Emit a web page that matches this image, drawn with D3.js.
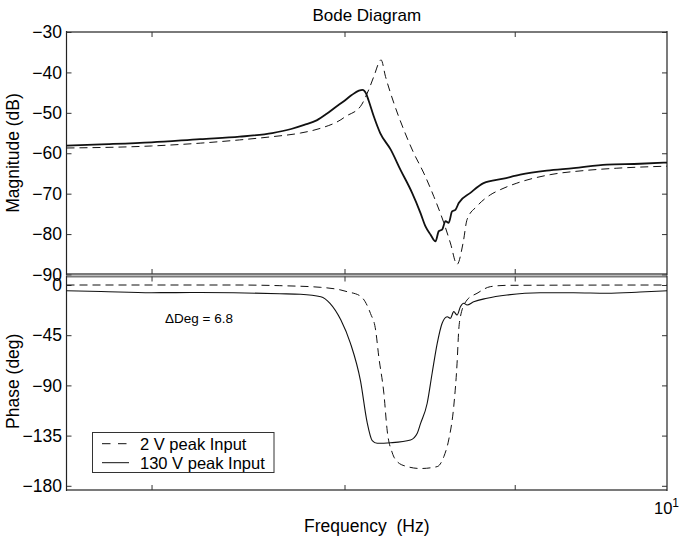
<!DOCTYPE html>
<html>
<head>
<meta charset="utf-8">
<script src="https://cdn.jsdelivr.net/npm/d3@7"></script>
<style>
  html, body { margin: 0; padding: 0; background: #fff; }
  svg text { font-family: "Liberation Sans", Arial, Helvetica, sans-serif; fill: #000; }
</style>
</head>
<body>
<svg id="chart" width="679" height="539"></svg>
<script>
// ---- Data -------------------------------------------------------------
const seriesNames = ["2 V peak Input", "130 V peak Input"];
const magTicks = [-30, -40, -50, -60, -70, -80, -90];
const phaseTicks = [0, -45, -90, -135, -180];
const freqTicks = [7, 8, 9, 10];
const freqDomain = [6.6, 10];

// Magnitude (dB), 2 V peak input
const magFreq2 = [6.60, 7.00, 7.24, 7.44, 7.61, 7.76, 7.87, 7.98, 8.006, 8.089, 8.135, 8.164, 8.205,
  8.23, 8.278, 8.335, 8.393, 8.451, 8.51, 8.569, 8.608, 8.648, 8.684, 8.708, 8.768, 8.849, 8.911,
  9.013, 9.223, 9.438, 9.659, 10.0];
const mag2 = [-58.7, -58.2, -57.5, -56.7, -55.9, -55.0, -53.8, -51.7, -50.9, -48.4, -44.3, -41.0, -36.9,
  -41.0, -47.6, -54.2, -60.0, -64.9, -70.7, -77.2, -82.2, -87.5, -82.2, -76.4, -73.1, -70.3, -69.0,
  -67.4, -65.3, -64.3, -63.7, -63.2];

// Magnitude (dB), 130 V peak input
const magFreq130 = [6.60, 6.76, 7.00, 7.24, 7.44, 7.61, 7.71, 7.78, 7.85, 7.90, 7.95, 8.00, 8.04, 8.08,
  8.10, 8.12, 8.135, 8.164, 8.20, 8.26, 8.316, 8.383, 8.432, 8.461, 8.49, 8.52, 8.539, 8.559, 8.579, 8.598,
  8.618, 8.638, 8.658, 8.728, 8.808, 8.93, 9.034, 9.202, 9.374, 9.592, 9.815, 10.0];
const mag130 = [-58.1, -57.8, -57.3, -56.5, -55.9, -55.0, -54.0, -53.0, -51.8, -50.3, -48.6, -47.0, -45.6, -44.5,
  -44.3, -45.2, -47.0, -50.9, -55.0, -59.1, -64.1, -69.8, -74.8, -78.1, -80.1, -81.8, -79.3, -78.9, -76.8, -77.2,
  -74.4, -74.0, -72.3, -69.8, -67.4, -66.3, -65.3, -64.3, -63.7, -62.8, -62.6, -62.3];

// Phase (deg), 2 V peak input
const phaseFreq2 = [6.60, 7.41, 7.65, 7.87, 7.98, 8.015, 8.089, 8.145, 8.174, 8.192, 8.221, 8.240, 8.269,
  8.297, 8.355, 8.432, 8.53, 8.569, 8.598, 8.628, 8.648, 8.658, 8.668, 8.708, 8.768, 8.849, 8.95, 10.0];
const phase2 = [0, 0, -0.6, -2.1, -4.5, -6.0, -10.0, -25.5, -40.3, -64.3, -97.4, -130.8, -150.5,
  -158.4, -162.8, -164.5, -162.8, -153.9, -138.9, -109.0, -70.1, -40.3, -28.4, -13.4, -7.5, -1.5, -0.3, 0];

// Phase (deg), 130 V peak input
const phaseFreq130 = [6.60, 6.76, 7.00, 7.24, 7.41, 7.65, 7.76, 7.87, 7.92, 7.98, 8.033, 8.089, 8.126,
  8.155, 8.183, 8.259, 8.374, 8.413, 8.432, 8.471, 8.50, 8.53, 8.559, 8.589, 8.608, 8.628, 8.648, 8.668,
  8.688, 8.708, 8.748, 8.829, 8.952, 9.159, 9.374, 9.592, 9.815, 10.0];
const phase130 = [-5.1, -5.8, -6.9, -6.7, -6.9, -7.8, -8.3, -10.5, -16.4, -31.4, -52.3, -86.0, -123.0,
  -139.5, -141.9, -141.4, -138.9, -132.9, -124.3, -106.0, -79.1, -52.3, -34.3, -28.4, -29.8, -23.9, -26.9, -19.5,
  -16.4, -17.9, -15.0, -11.9, -9.0, -6.9, -6.9, -7.4, -6.3, -5.1];

const deltaDeg = 6.8;

// ---- Layout -----------------------------------------------------------
const svg = d3.select("#chart");
svg.append("rect").attr("width", 679).attr("height", 539).attr("fill", "#fff");

const plotLeft = 66.5, plotRight = 667;
const magTop = 32, magBottom = 274;
const phTop = 276.5, phBottom = 490;

const x = d3.scaleLog().domain(freqDomain).range([plotLeft, plotRight]);
const yMag = d3.scaleLinear().domain([-90, -30]).range([274.5, 32]);
const yPh = d3.scaleLinear().domain([-180, 0]).range([485.8, 285]);

const fontSize = 17.5;

function frame(top, bottom) {
  const g = svg.append("g");
  // horizontal edges
  [top, bottom].forEach(yy => {
    g.append("line").attr("x1", plotLeft).attr("x2", plotRight).attr("y1", yy).attr("y2", yy)
      .attr("stroke", "#7a7a7a").attr("stroke-width", 2);
  });
  // vertical edges
  [plotLeft, plotRight].forEach(xx => {
    g.append("line").attr("x1", xx).attr("x2", xx).attr("y1", top - 1).attr("y2", bottom + 1)
      .attr("stroke", "#222").attr("stroke-width", 1.2);
  });
}

function styleAxis(g) {
  g.select(".domain").remove();
  g.selectAll(".tick line").attr("stroke", "#333").attr("stroke-width", 1);
  g.selectAll(".tick text").attr("font-size", fontSize).attr("fill", "#000")
    .attr("font-family", '"Liberation Sans", Arial, sans-serif');
}

function panel(y, ticks, top, bottom) {
  frame(top, bottom);
  svg.append("g").attr("transform", `translate(${plotLeft},0)`)
    .call(d3.axisLeft(y).tickValues(ticks).tickSize(-5).tickSizeOuter(0).tickPadding(4.5)
      .tickFormat(d3.format("d")))
    .call(styleAxis);
  svg.append("g").attr("transform", `translate(${plotRight},0)`)
    .call(d3.axisRight(y).tickValues(ticks).tickSize(-5).tickSizeOuter(0).tickFormat(""))
    .call(styleAxis);
  svg.append("g").attr("transform", `translate(0,${top})`)
    .call(d3.axisTop(x).tickValues(freqTicks.slice(0, 3)).tickSize(-5).tickSizeOuter(0).tickFormat(""))
    .call(styleAxis);
  svg.append("g").attr("transform", `translate(0,${bottom})`)
    .call(d3.axisBottom(x).tickValues(freqTicks.slice(0, 3)).tickSize(-5).tickSizeOuter(0).tickFormat(""))
    .call(styleAxis);
}

panel(yMag, magTicks, magTop, magBottom);
panel(yPh, phaseTicks, phTop, phBottom);

// ---- Curves -----------------------------------------------------------
function curve(freqs, vals, y, opts) {
  const pts = freqs.map((f, i) => [f, vals[i]]);
  const line = d3.line().x(d => x(d[0])).y(d => y(d[1])).curve(d3.curveMonotoneX);
  svg.append("path").datum(pts).attr("d", line)
    .attr("fill", "none").attr("stroke", "#111")
    .attr("stroke-width", opts.width)
    .attr("stroke-dasharray", opts.dash || null)
    .attr("stroke-linejoin", "round");
}

curve(magFreq2, mag2, yMag, { width: 1, dash: "8,5" });
curve(magFreq130, mag130, yMag, { width: 1.8 });
curve(phaseFreq2, phase2, yPh, { width: 1, dash: "8,5" });
curve(phaseFreq130, phase130, yPh, { width: 1.1 });

// ---- Text -------------------------------------------------------------
const midX = (plotLeft + plotRight) / 2;
svg.append("text").attr("x", midX).attr("y", 21).attr("text-anchor", "middle")
  .attr("font-size", 17).text("Bode Diagram");

svg.append("text").attr("x", midX).attr("y", 532).attr("text-anchor", "middle")
  .attr("font-size", 17.5).attr("xml:space", "preserve").text("Frequency  (Hz)");

svg.append("text").attr("transform", `translate(19,${(magTop + magBottom) / 2}) rotate(-90)`)
  .attr("text-anchor", "middle").attr("font-size", fontSize).text("Magnitude (dB)");

svg.append("text").attr("transform", `translate(19,${(phTop + phBottom) / 2 - 2}) rotate(-90)`)
  .attr("text-anchor", "middle").attr("font-size", fontSize).text("Phase (deg)");

// Decade label at the right end of the frequency axis
const decade = svg.append("text").attr("x", x(10) - 13).attr("y", 514).attr("font-size", 16.5);
decade.append("tspan").text("10");
decade.append("tspan").attr("font-size", 12).attr("dy", -7).text("1");

// Phase offset annotation
svg.append("text").attr("x", 165).attr("y", 323).attr("font-size", 13.5)
  .text("\u0394Deg = " + deltaDeg);

// ---- Legend -----------------------------------------------------------
const lg = svg.append("g");
lg.append("rect").attr("x", 92.5).attr("y", 432.5).attr("width", 181.5).attr("height", 40)
  .attr("fill", "#fff").attr("stroke", "#333").attr("stroke-width", 1);
const legendRows = [
  { name: seriesNames[0], dash: "8.5,7.5", y: 443.7 },
  { name: seriesNames[1], dash: null, y: 462.7 }
];
legendRows.forEach(r => {
  lg.append("line").attr("x1", 102).attr("x2", 129).attr("y1", r.y).attr("y2", r.y)
    .attr("stroke", "#111").attr("stroke-width", 1).attr("stroke-dasharray", r.dash);
  lg.append("text").attr("x", 140).attr("y", r.y).attr("dy", "0.36em")
    .attr("font-size", 16.5).text(r.name);
});
</script>
</body>
</html>
